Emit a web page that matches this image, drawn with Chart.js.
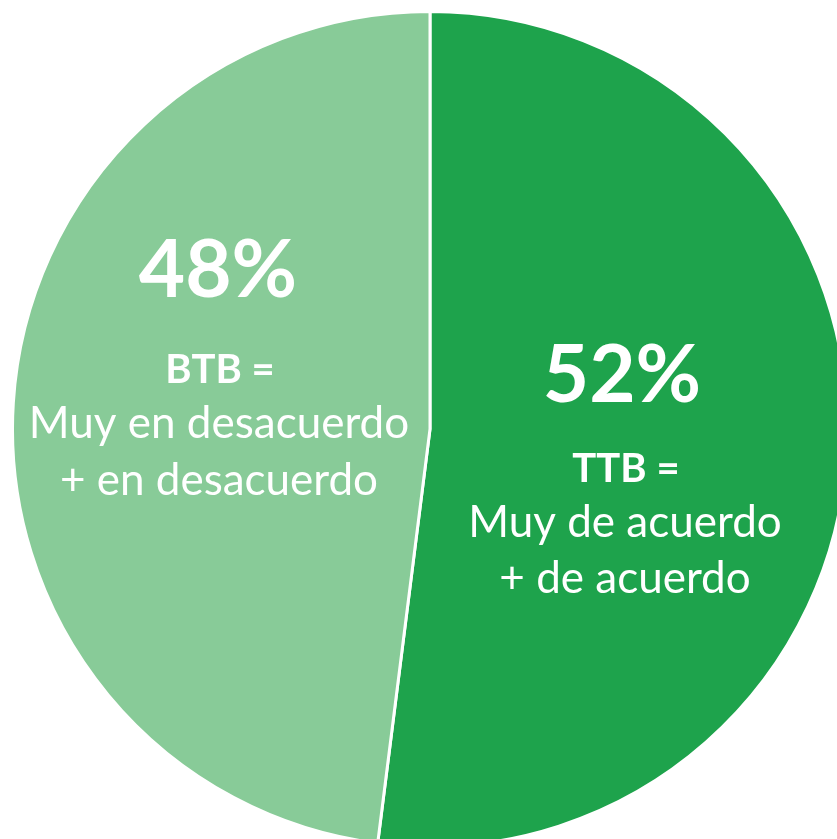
<!DOCTYPE html>
<html>
<head>
<meta charset="utf-8">
<script src="https://cdn.jsdelivr.net/npm/chart.js@4.4.1/dist/chart.umd.min.js"></script>
<style>
    html, body { margin: 0; padding: 0; background: #fff; overflow: hidden; width: 837px; height: 839px; }
    #wrap { position: absolute; left: 11px; top: 10px; width: 838px; height: 838px; }
</style>
</head>
<body>
<div id="wrap"><canvas id="pieChart" width="838" height="838"></canvas></div>
<script>
const categories = ['TTB', 'BTB'];
const values = [52, 48];
const headings = ['TTB =', 'BTB ='];
const descLines = [
    ['Muy de acuerdo', '+ de acuerdo'],
    ['Muy en desacuerdo', '+ en desacuerdo']
];
const colors = ['#1EA34C', '#88CB98'];

// ตำแหน่งข้อความเทียบกับจุดศูนย์กลางวงกลม (px, baseline)
const labelLayout = [
    { pct: [192, -27], head: [196, 53], lines: [[195, 108], [195, 164]] },
    { pct: [-212, -132], head: [-210, -46], lines: [[-211, 9], [-211, 66]] }
];

const sliceLabels = {
    id: 'sliceLabels',
    afterDatasetsDraw(chart) {
        const ctx = chart.ctx;
        const arc = chart.getDatasetMeta(0).data[0];
        const cx = arc.x, cy = arc.y;
        ctx.save();
        ctx.fillStyle = '#ffffff';
        ctx.textAlign = 'center';
        ctx.textBaseline = 'alphabetic';
        values.forEach((v, i) => {
            const L = labelLayout[i];
            ctx.font = "bold 80px Lato";
            ctx.fillText(v + '%', cx + L.pct[0], cy + L.pct[1]);
            ctx.font = "bold 40px Lato";
            ctx.fillText(headings[i], cx + L.head[0], cy + L.head[1]);
            ctx.font = "44px Lato";
            descLines[i].forEach((t, j) => {
                ctx.fillText(t, cx + L.lines[j][0], cy + L.lines[j][1]);
            });
        });
        ctx.restore();
    }
};

new Chart(document.getElementById('pieChart'), {
    type: 'pie',
    data: {
        labels: categories,
        datasets: [{
            data: values,
            backgroundColor: colors,
            borderColor: '#ffffff',
            borderWidth: 3
        }]
    },
    options: {
        responsive: false,
        animation: false,
        layout: { padding: 0 },
        plugins: {
            legend: { display: false },
            tooltip: { enabled: false }
        }
    },
    plugins: [sliceLabels]
});
</script>
</body>
</html>
